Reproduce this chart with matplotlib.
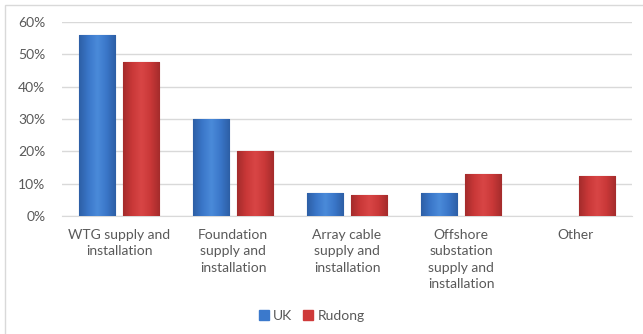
import matplotlib
matplotlib.use("Agg")
import matplotlib.pyplot as plt
import numpy as np
from matplotlib.patches import Rectangle
from matplotlib.colors import LinearSegmentedColormap
from matplotlib.ticker import PercentFormatter

categories = ["WTG supply and\ninstallation",
              "Foundation\nsupply and\ninstallation",
              "Array cable\nsupply and\ninstallation",
              "Offshore\nsubstation\nsupply and\ninstallation",
              "Other"]
uk = [0.56, 0.30, 0.07, 0.07, 0.0]
rudong = [0.475, 0.20, 0.066, 0.13, 0.124]
yticks = [0, 0.1, 0.2, 0.3, 0.4, 0.5, 0.6]

plt.rcParams["font.family"] = ["Lato", "DejaVu Sans"]
text_color = "#595959"
blue, red = "#3b79cc", "#cf3a3a"


def shade_bars(ax, bars, cmap):
    # horizontal gradient to mimic the bevelled Excel bars
    grad = np.abs(np.linspace(-1, 1, 64))[None, :]
    for b in bars:
        if b.get_height() <= 0:
            b.set_visible(False)
            continue
        x0, y0 = b.get_x(), b.get_y()
        im = ax.imshow(grad, cmap=cmap, aspect="auto", zorder=3.5,
                       extent=(x0, x0 + b.get_width(), y0, y0 + b.get_height()))
        im.set_clip_path(b)


fig = plt.figure(figsize=(6.43, 3.34), dpi=100)
ax = fig.add_axes([0.0964, 0.353, 0.8866, 0.581])

x = np.arange(len(categories))
w = 0.316
off = 0.035 + w / 2
b1 = ax.bar(x - off, uk, w, color=blue, edgecolor="#2a5a9c", linewidth=0.8, zorder=3)
b2 = ax.bar(x + off, rudong, w, color=red, edgecolor="#982828", linewidth=0.8, zorder=3)
shade_bars(ax, b1, LinearSegmentedColormap.from_list("b", ["#4a8ad9", "#3a76c8", "#2d5fa6"]))
shade_bars(ax, b2, LinearSegmentedColormap.from_list("r", ["#d84545", "#c93838", "#a52c2c"]))

ax.set_xlim(-0.5, len(categories) - 0.5)
ax.set_ylim(0, 0.6)
ax.set_yticks(yticks)
ax.yaxis.set_major_formatter(PercentFormatter(1.0, decimals=0))
ax.grid(axis="y", color="#d9d9d9", linewidth=1, zorder=0)
for s in ["top", "right", "left"]:
    ax.spines[s].set_visible(False)
ax.spines["bottom"].set_color("#d9d9d9")
ax.tick_params(length=0, colors=text_color, labelsize=10)
ax.tick_params(axis="y", pad=12)
ax.set_xticks(x)
ax.set_xticklabels(categories, linespacing=1.45, fontsize=10, color=text_color,
                   multialignment="center")
ax.tick_params(axis="x", pad=9)

handles = [Rectangle((0, 0), 1, 1, color=blue), Rectangle((0, 0), 1, 1, color=red)]
fig.legend(handles, ["UK", "Rudong"], loc="center", bbox_to_anchor=(0.485, 0.055),
           ncol=2, frameon=False, fontsize=10, handlelength=0.7, handleheight=0.7,
           handletextpad=0.3, columnspacing=0.8, labelcolor=text_color)

fig.add_artist(Rectangle((0.008, -0.1), 1.2, 1.085, transform=fig.transFigure,
                         fill=False, edgecolor="#d9d9d9", linewidth=1))

fig.savefig("out.png", dpi=100, facecolor="white")
